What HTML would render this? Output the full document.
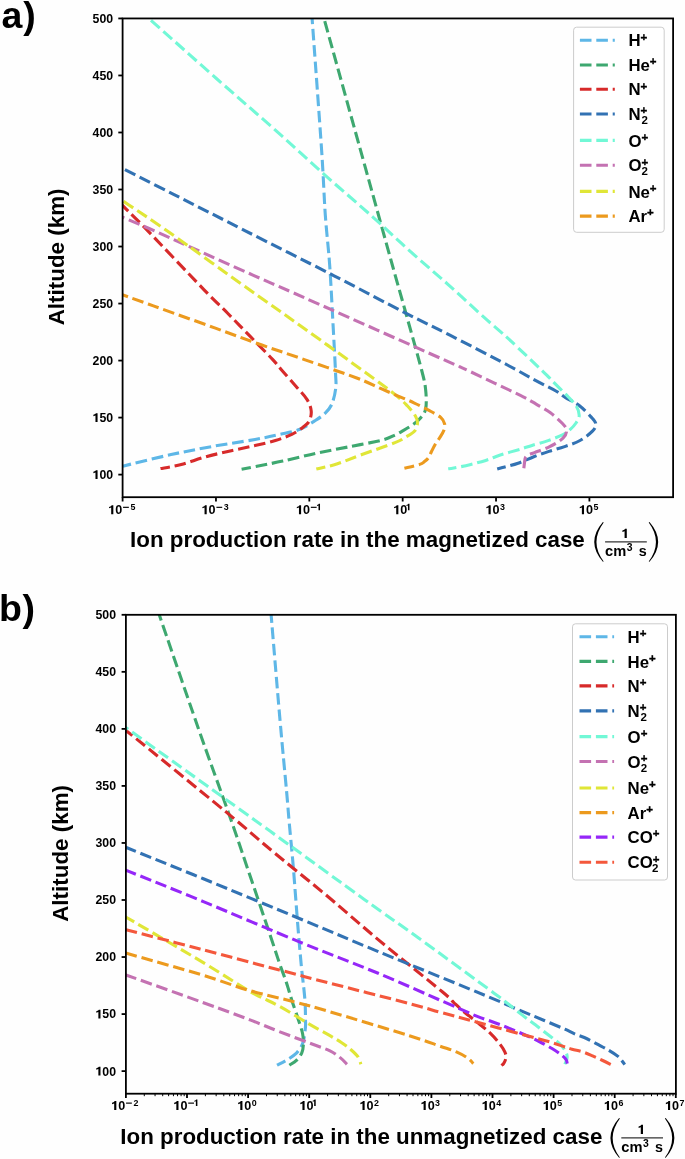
<!DOCTYPE html><html><head><meta charset="utf-8"><style>html,body{margin:0;padding:0;background:#fefefe;}svg{display:block;will-change:transform;}text{font-family:"Liberation Sans", sans-serif;fill:#000;}</style></head><body>
<svg width="685" height="1159" viewBox="0 0 685 1159">
<defs><clipPath id="ca"><rect x="122.60" y="18.45" width="550.50" height="478.75"/></clipPath><clipPath id="cb"><rect x="125.90" y="614.80" width="550.00" height="478.90"/></clipPath></defs>
<rect width="685" height="1159" fill="#fefefe"/>
<text x="1.5" y="28.3" font-size="37.5" font-weight="bold">a<tspan dx="0.9">)</tspan></text>
<text x="-1" y="620.8" font-size="37.5" font-weight="bold">b<tspan dx="0.6">)</tspan></text>
<g clip-path="url(#ca)" fill="none" stroke-width="3.10" stroke-dasharray="11.6 4.8">
<path d="M312.10,18.45 C313.68,40.38 319.40,117.26 321.60,150.00 C323.80,182.74 323.97,195.90 325.30,214.90 C326.63,233.90 328.35,246.48 329.60,264.00 C330.85,281.52 331.82,302.00 332.80,320.00 C333.78,338.00 335.02,360.60 335.50,372.00 C335.98,383.40 336.35,382.95 335.70,388.40 C335.05,393.85 333.47,400.45 331.60,404.70 C329.73,408.95 327.38,411.17 324.50,413.90 C321.62,416.63 318.38,418.53 314.30,421.10 C310.22,423.67 305.80,427.08 300.00,429.30 C294.20,431.52 287.00,432.70 279.50,434.40 C272.00,436.10 266.25,437.48 255.00,439.50 C243.75,441.52 225.98,443.98 212.00,446.50 C198.02,449.02 186.00,451.32 171.10,454.60 C156.20,457.88 132.78,463.70 122.60,466.20 C112.42,468.70 112.10,469.03 110.00,469.60" stroke="#5EB7E7" stroke-dashoffset="5.93"/>
<path d="M324.00,18.45 C330.92,43.41 354.18,127.36 365.50,168.20 C376.82,209.04 385.37,240.03 391.90,263.50 C398.43,286.97 399.75,291.25 404.70,309.00 C409.65,326.75 418.10,356.43 421.60,370.00 C425.10,383.57 425.02,383.93 425.70,390.40 C426.38,396.87 426.57,404.20 425.70,408.80 C424.83,413.40 422.55,415.43 420.50,418.00 C418.45,420.57 416.28,422.10 413.40,424.20 C410.52,426.30 406.27,428.80 403.20,430.60 C400.13,432.40 398.63,433.38 395.00,435.00 C391.37,436.62 389.15,438.32 381.40,440.30 C373.65,442.28 359.45,444.72 348.50,446.90 C337.55,449.08 326.65,451.03 315.70,453.40 C304.75,455.77 292.58,458.97 282.80,461.10 C273.02,463.23 263.87,464.85 257.00,466.20 C250.13,467.55 244.17,468.70 241.60,469.20" stroke="#3EA870" stroke-dashoffset="13.44"/>
<path d="M110.00,192.60 C112.65,195.30 119.75,202.58 125.90,208.80 C132.05,215.02 133.95,216.48 146.90,229.90 C159.85,243.32 190.10,275.37 203.60,289.30 C217.10,303.23 220.25,305.77 227.90,313.50 C235.55,321.23 242.10,328.10 249.50,335.70 C256.90,343.30 266.95,353.38 272.30,359.10 C277.65,364.82 277.67,365.47 281.60,370.00 C285.53,374.53 291.65,381.37 295.90,386.30 C300.15,391.23 304.55,395.50 307.10,399.60 C309.65,403.70 310.85,407.32 311.20,410.90 C311.55,414.48 310.57,418.38 309.20,421.10 C307.83,423.82 305.90,424.98 303.00,427.20 C300.10,429.42 296.40,432.18 291.80,434.40 C287.20,436.62 281.53,438.63 275.40,440.50 C269.27,442.37 262.17,443.95 255.00,445.60 C247.83,447.25 240.60,448.53 232.40,450.40 C224.20,452.27 214.32,454.45 205.80,456.80 C197.28,459.15 188.85,462.53 181.30,464.50 C173.75,466.47 163.97,467.92 160.50,468.60" stroke="#D72A2A" stroke-dashoffset="2.24"/>
<path d="M110.00,162.10 C120.68,167.52 151.55,183.15 174.10,194.60 C196.65,206.05 218.63,217.27 245.30,230.80 C271.97,244.33 307.53,262.17 334.10,275.80 C360.67,289.43 385.40,302.72 404.70,312.60 C424.00,322.48 432.63,326.28 449.90,335.10 C467.17,343.92 494.05,357.95 508.30,365.50 C522.55,373.05 527.47,376.15 535.40,380.40 C543.33,384.65 550.87,388.13 555.90,391.00 C560.93,393.87 561.72,395.18 565.60,397.60 C569.48,400.02 574.97,402.28 579.20,405.50 C583.43,408.72 588.23,413.83 591.00,416.90 C593.77,419.97 595.52,421.57 595.80,423.90 C596.08,426.23 595.33,428.13 592.70,430.90 C590.07,433.67 584.68,437.88 580.00,440.50 C575.32,443.12 569.78,444.78 564.60,446.60 C559.42,448.42 554.03,449.72 548.90,451.40 C543.77,453.08 538.93,454.73 533.80,456.70 C528.67,458.67 523.32,461.38 518.10,463.20 C512.88,465.02 505.98,466.62 502.50,467.60 C499.02,468.58 498.08,468.85 497.20,469.10" stroke="#3272B3" stroke-dashoffset="15.92"/>
<path d="M148.90,18.45 C160.15,28.46 195.13,59.73 216.40,78.50 C237.67,97.28 258.27,114.88 276.50,131.10 C294.73,147.32 309.60,161.35 325.80,175.80 C342.00,190.25 359.48,205.07 373.70,217.80 C387.92,230.53 398.73,241.12 411.10,252.20 C423.47,263.28 435.68,273.40 447.90,284.30 C460.12,295.20 474.23,308.45 484.40,317.60 C494.57,326.75 498.78,329.87 508.90,339.20 C519.02,348.53 537.95,366.73 545.10,373.60 C552.25,380.47 547.97,376.53 551.80,380.40 C555.63,384.27 564.02,392.53 568.10,396.80 C572.18,401.07 574.45,402.88 576.30,406.00 C578.15,409.12 579.25,412.67 579.20,415.50 C579.15,418.33 577.62,420.55 576.00,423.00 C574.38,425.45 571.67,428.27 569.50,430.20 C567.33,432.13 566.57,432.87 563.00,434.60 C559.43,436.33 553.27,438.80 548.10,440.60 C542.93,442.40 536.55,444.00 532.00,445.40 C527.45,446.80 525.97,447.43 520.80,449.00 C515.63,450.57 506.85,452.90 501.00,454.80 C495.15,456.70 490.90,458.75 485.70,460.40 C480.50,462.05 475.12,463.42 469.80,464.70 C464.48,465.98 457.40,467.42 453.80,468.10 C450.20,468.78 449.13,468.68 448.20,468.80" stroke="#72F8D6" stroke-dashoffset="13.30"/>
<path d="M110.00,212.00 C112.10,212.87 116.08,214.45 122.60,217.20 C129.12,219.95 137.87,223.55 149.10,228.50 C160.33,233.45 172.62,239.10 190.00,246.90 C207.38,254.70 232.80,266.15 253.40,275.30 C274.00,284.45 281.23,287.45 313.60,301.80 C345.97,316.15 422.83,350.40 447.60,361.40 C472.37,372.40 454.30,364.15 462.20,367.80 C470.10,371.45 484.83,378.47 495.00,383.30 C505.17,388.13 516.35,393.33 523.20,396.80 C530.05,400.27 531.62,401.48 536.10,404.10 C540.58,406.72 545.75,409.30 550.10,412.50 C554.45,415.70 559.45,420.37 562.20,423.30 C564.95,426.23 566.47,427.62 566.60,430.10 C566.73,432.58 565.82,435.45 563.00,438.20 C560.18,440.95 554.45,444.20 549.70,446.60 C544.95,449.00 537.93,451.27 534.50,452.60 C531.07,453.93 530.52,453.93 529.10,454.60 C527.68,455.27 526.68,455.87 526.00,456.60 C525.32,457.33 525.27,457.85 525.00,459.00 C524.73,460.15 524.60,461.92 524.40,463.50 C524.20,465.08 523.90,467.67 523.80,468.50" stroke="#C472B2" stroke-dashoffset="12.35"/>
<path d="M110.00,192.20 C113.08,194.28 118.70,198.07 128.50,204.70 C138.30,211.33 148.75,217.90 168.80,232.00 C188.85,246.10 226.52,273.43 248.80,289.30 C271.08,305.17 283.42,313.58 302.50,327.20 C321.58,340.82 347.88,359.78 363.30,371.00 C378.72,382.22 387.67,388.70 395.00,394.50 C402.33,400.30 403.90,402.22 407.30,405.80 C410.70,409.38 413.70,413.12 415.40,416.00 C417.10,418.88 417.67,420.55 417.50,423.10 C417.33,425.65 416.45,428.92 414.40,431.30 C412.35,433.68 408.43,435.52 405.20,437.40 C401.97,439.28 402.32,439.70 395.00,442.60 C387.68,445.50 371.02,451.23 361.30,454.80 C351.58,458.37 344.20,461.62 336.70,464.00 C329.20,466.38 319.70,468.25 316.30,469.10" stroke="#E0E637" stroke-dashoffset="16.27"/>
<path d="M110.00,290.30 C117.23,292.90 135.95,299.63 153.40,305.90 C170.85,312.17 196.73,321.42 214.70,327.90 C232.67,334.38 246.25,339.52 261.20,344.80 C276.15,350.08 288.48,354.07 304.40,359.60 C320.32,365.13 344.10,373.23 356.70,378.00 C369.30,382.77 373.20,385.23 380.00,388.20 C386.80,391.17 391.85,393.37 397.50,395.80 C403.15,398.23 408.65,400.37 413.90,402.80 C419.15,405.23 424.53,407.97 429.00,410.40 C433.47,412.83 438.10,415.17 440.70,417.40 C443.30,419.63 444.08,421.62 444.60,423.80 C445.12,425.98 444.65,428.13 443.80,430.50 C442.95,432.87 440.97,435.63 439.50,438.00 C438.03,440.37 436.33,442.45 435.00,444.70 C433.67,446.95 432.58,449.32 431.50,451.50 C430.42,453.68 429.67,456.12 428.50,457.80 C427.33,459.48 425.97,460.50 424.50,461.60 C423.03,462.70 423.05,463.30 419.70,464.40 C416.35,465.50 406.95,467.57 404.40,468.20" stroke="#EC9A1E" stroke-dashoffset="8.88"/>
</g>
<g clip-path="url(#cb)" fill="none" stroke-width="3.10" stroke-dasharray="11.6 4.8">
<path d="M271.10,614.60 C272.58,632.17 277.42,690.52 280.00,720.00 C282.58,749.48 285.05,774.25 286.60,791.50 C288.15,808.75 288.20,811.10 289.30,823.50 C290.40,835.90 291.83,849.57 293.20,865.90 C294.57,882.23 296.17,905.05 297.50,921.50 C298.83,937.95 300.12,953.18 301.20,964.60 C302.28,976.02 303.33,983.33 304.00,990.00 C304.67,996.67 304.95,999.65 305.20,1004.60 C305.45,1009.55 305.45,1016.05 305.50,1019.70 C305.55,1023.35 305.75,1023.42 305.50,1026.50 C305.25,1029.58 304.62,1035.03 304.00,1038.20 C303.38,1041.37 303.02,1043.07 301.80,1045.50 C300.58,1047.93 299.00,1050.50 296.70,1052.80 C294.40,1055.10 291.28,1057.23 288.00,1059.30 C284.72,1061.37 278.83,1064.22 277.00,1065.20" stroke="#5EB7E7" stroke-dashoffset="3.30"/>
<path d="M159.20,614.60 C165.70,633.50 186.70,695.12 198.20,728.00 C209.70,760.88 220.03,788.67 228.20,811.90 C236.37,835.13 240.22,846.88 247.20,867.40 C254.18,887.92 264.73,919.07 270.10,935.00 C275.47,950.93 276.83,955.52 279.40,963.00 C281.97,970.48 283.95,975.40 285.50,979.90 C287.05,984.40 287.57,986.37 288.70,990.00 C289.83,993.63 290.72,996.83 292.30,1001.70 C293.88,1006.57 296.48,1013.85 298.20,1019.20 C299.92,1024.55 301.75,1029.42 302.60,1033.80 C303.45,1038.18 303.43,1042.33 303.30,1045.50 C303.17,1048.67 302.90,1050.37 301.80,1052.80 C300.70,1055.23 298.77,1058.03 296.70,1060.10 C294.63,1062.17 290.62,1064.35 289.40,1065.20" stroke="#3EA870" stroke-dashoffset="5.36"/>
<path d="M110.00,718.90 C112.92,721.03 108.17,716.20 127.50,731.70 C146.83,747.20 201.67,791.83 226.00,811.90 C250.33,831.97 256.83,838.25 273.50,852.10 C290.17,865.95 308.35,880.25 326.00,895.00 C343.65,909.75 360.02,924.47 379.40,940.60 C398.78,956.73 429.87,981.43 442.30,991.80 C454.73,1002.17 450.30,999.40 454.00,1002.80 C457.70,1006.20 460.42,1008.78 464.50,1012.20 C468.58,1015.62 474.22,1019.80 478.50,1023.30 C482.78,1026.80 486.68,1029.80 490.20,1033.20 C493.72,1036.60 497.17,1040.58 499.60,1043.70 C502.03,1046.82 503.73,1049.57 504.80,1051.90 C505.87,1054.23 506.20,1055.75 506.00,1057.70 C505.80,1059.65 504.38,1062.33 503.60,1063.60 C502.82,1064.87 501.68,1065.02 501.30,1065.30" stroke="#D72A2A"/>
<path d="M110.00,841.00 C112.82,842.13 111.33,841.50 126.90,847.80 C142.47,854.10 173.97,866.73 203.40,878.80 C232.83,890.87 274.55,908.15 303.50,920.20 C332.45,932.25 346.18,938.30 377.10,951.10 C408.02,963.90 466.07,987.48 489.00,997.00 C511.93,1006.52 507.12,1004.97 514.70,1008.20 C522.28,1011.43 528.67,1013.97 534.50,1016.40 C540.33,1018.83 544.63,1020.67 549.70,1022.80 C554.77,1024.93 560.75,1027.35 564.90,1029.20 C569.05,1031.05 571.37,1032.52 574.60,1033.90 C577.83,1035.28 580.98,1036.05 584.30,1037.50 C587.62,1038.95 590.42,1040.47 594.50,1042.60 C598.58,1044.73 604.88,1048.00 608.80,1050.30 C612.72,1052.60 615.78,1054.62 618.00,1056.40 C620.22,1058.18 620.98,1059.63 622.10,1061.00 C623.22,1062.37 624.27,1064.00 624.70,1064.60" stroke="#3272B3"/>
<path d="M110.00,716.20 C112.92,718.30 100.83,709.65 127.50,728.80 C154.17,747.95 230.53,802.65 270.00,831.10 C309.47,859.55 339.77,881.85 364.30,899.50 C388.83,917.15 395.63,921.43 417.20,937.00 C438.77,952.57 479.00,982.12 493.70,992.90 C508.40,1003.68 500.73,998.08 505.40,1001.70 C510.07,1005.32 516.65,1010.70 521.70,1014.60 C526.75,1018.50 531.23,1021.70 535.70,1025.10 C540.17,1028.50 544.62,1031.98 548.50,1035.00 C552.38,1038.02 556.27,1040.67 559.00,1043.20 C561.73,1045.73 563.53,1047.87 564.90,1050.20 C566.27,1052.53 567.20,1054.87 567.20,1057.20 C567.20,1059.53 565.28,1063.03 564.90,1064.20" stroke="#72F8D6" stroke-dashoffset="3.92"/>
<path d="M110.00,969.30 C112.77,970.28 111.02,969.63 126.60,975.20 C142.18,980.77 182.93,995.25 203.50,1002.70 C224.07,1010.15 237.38,1015.08 250.00,1019.90 C262.62,1024.72 269.47,1027.82 279.20,1031.60 C288.93,1035.38 299.93,1039.38 308.40,1042.60 C316.87,1045.82 324.65,1048.35 330.00,1050.90 C335.35,1053.45 337.68,1055.67 340.50,1057.90 C343.32,1060.13 345.83,1063.23 346.90,1064.30" stroke="#C472B2"/>
<path d="M110.00,908.00 C112.77,909.58 111.12,908.43 126.60,917.50 C142.08,926.57 182.33,950.07 202.90,962.40 C223.47,974.73 237.28,984.22 250.00,991.50 C262.72,998.78 269.47,1000.75 279.20,1006.10 C288.93,1011.45 299.93,1018.67 308.40,1023.60 C316.87,1028.53 324.45,1032.52 330.00,1035.70 C335.55,1038.88 338.20,1040.37 341.70,1042.70 C345.20,1045.03 348.28,1047.35 351.00,1049.70 C353.72,1052.05 356.35,1054.37 358.00,1056.80 C359.65,1059.23 360.42,1063.05 360.90,1064.30" stroke="#E0E637"/>
<path d="M110.00,948.50 C112.77,949.30 111.40,948.93 126.60,953.30 C141.80,957.67 180.63,968.47 201.20,974.70 C221.77,980.93 234.57,986.20 250.00,990.70 C265.43,995.20 280.47,998.18 293.80,1001.70 C307.13,1005.22 310.73,1006.13 330.00,1011.80 C349.27,1017.47 391.07,1029.98 409.40,1035.70 C427.73,1041.42 432.17,1043.40 440.00,1046.10 C447.83,1048.80 451.73,1049.87 456.40,1051.90 C461.07,1053.93 465.18,1056.35 468.00,1058.30 C470.82,1060.25 472.42,1062.72 473.30,1063.60" stroke="#EC9A1E"/>
<path d="M110.00,863.80 C112.82,864.93 111.33,864.30 126.90,870.60 C142.47,876.90 174.55,889.68 203.40,901.60 C232.25,913.52 270.87,930.15 300.00,942.10 C329.13,954.05 354.28,963.37 378.20,973.30 C402.12,983.23 429.30,995.52 443.50,1001.70 C457.70,1007.88 457.57,1007.87 463.40,1010.40 C469.23,1012.93 473.25,1014.85 478.50,1016.90 C483.75,1018.95 489.65,1020.75 494.90,1022.70 C500.15,1024.65 504.95,1026.55 510.00,1028.60 C515.05,1030.65 520.33,1032.85 525.20,1035.00 C530.07,1037.15 534.73,1039.25 539.20,1041.50 C543.67,1043.75 548.30,1046.27 552.00,1048.50 C555.70,1050.73 559.05,1053.05 561.40,1054.90 C563.75,1056.75 565.13,1058.15 566.10,1059.60 C567.07,1061.05 567.02,1062.93 567.20,1063.60" stroke="#9527F8"/>
<path d="M110.00,925.50 C112.67,926.20 111.00,925.78 126.00,929.70 C141.00,933.62 174.43,942.28 200.00,949.00 C225.57,955.72 257.73,964.30 279.40,970.00 C301.07,975.70 308.33,977.60 330.00,983.20 C351.67,988.80 391.07,998.77 409.40,1003.60 C427.73,1008.43 430.23,1009.50 440.00,1012.20 C449.77,1014.90 458.27,1017.17 468.00,1019.80 C477.73,1022.43 487.90,1025.17 498.40,1028.00 C508.90,1030.83 522.65,1034.55 531.00,1036.80 C539.35,1039.05 543.23,1039.95 548.50,1041.50 C553.77,1043.05 558.68,1044.82 562.60,1046.10 C566.52,1047.38 568.72,1048.25 572.00,1049.20 C575.28,1050.15 578.88,1050.68 582.30,1051.80 C585.72,1052.92 589.10,1054.45 592.50,1055.90 C595.90,1057.35 599.47,1058.97 602.70,1060.50 C605.93,1062.03 610.37,1064.33 611.90,1065.10" stroke="#F4583C"/>
</g>
<rect x="122.60" y="18.45" width="550.50" height="478.75" fill="none" stroke="#000" stroke-width="1.8"/>
<line x1="118.30" y1="474.61" x2="122.60" y2="474.61" stroke="#000" stroke-width="1.8"/>
<polygon points="95.47,479.01 97.57,479.01 97.57,470.20 95.97,470.20 95.23,471.08 93.38,471.81 93.38,473.17 95.47,472.43" fill="#000"/><text x="99.42" y="479.01" font-size="12.30" font-weight="bold">00</text>
<line x1="118.30" y1="417.59" x2="122.60" y2="417.59" stroke="#000" stroke-width="1.8"/>
<polygon points="95.47,421.99 97.57,421.99 97.57,413.18 95.97,413.18 95.23,414.06 93.38,414.79 93.38,416.15 95.47,415.41" fill="#000"/><text x="99.42" y="421.99" font-size="12.30" font-weight="bold">50</text>
<line x1="118.30" y1="360.57" x2="122.60" y2="360.57" stroke="#000" stroke-width="1.8"/>
<text x="92.58" y="364.97" font-size="12.30" font-weight="bold">200</text>
<line x1="118.30" y1="303.55" x2="122.60" y2="303.55" stroke="#000" stroke-width="1.8"/>
<text x="92.58" y="307.95" font-size="12.30" font-weight="bold">250</text>
<line x1="118.30" y1="246.53" x2="122.60" y2="246.53" stroke="#000" stroke-width="1.8"/>
<text x="92.58" y="250.93" font-size="12.30" font-weight="bold">300</text>
<line x1="118.30" y1="189.51" x2="122.60" y2="189.51" stroke="#000" stroke-width="1.8"/>
<text x="92.58" y="193.91" font-size="12.30" font-weight="bold">350</text>
<line x1="118.30" y1="132.49" x2="122.60" y2="132.49" stroke="#000" stroke-width="1.8"/>
<text x="92.58" y="136.89" font-size="12.30" font-weight="bold">400</text>
<line x1="118.30" y1="75.47" x2="122.60" y2="75.47" stroke="#000" stroke-width="1.8"/>
<text x="92.58" y="79.87" font-size="12.30" font-weight="bold">450</text>
<line x1="118.30" y1="18.45" x2="122.60" y2="18.45" stroke="#000" stroke-width="1.8"/>
<text x="92.58" y="22.85" font-size="12.30" font-weight="bold">500</text>
<line x1="122.60" y1="497.20" x2="122.60" y2="501.50" stroke="#000" stroke-width="1.8"/>
<polygon points="111.19,514.32 113.33,514.32 113.33,505.30 111.70,505.30 110.94,506.19 109.05,506.95 109.05,508.34 111.19,507.58" fill="#000"/><text x="115.24" y="514.32" font-size="12.60" font-weight="bold">0</text><rect x="123.05" y="506.75" width="5.80" height="1.15" fill="#000"/><text x="130.49" y="510.17" font-size="8.90" font-weight="bold">5</text>
<line x1="215.96" y1="497.20" x2="215.96" y2="501.50" stroke="#000" stroke-width="1.8"/>
<polygon points="204.55,514.32 206.69,514.32 206.69,505.30 205.06,505.30 204.30,506.19 202.41,506.95 202.41,508.34 204.55,507.58" fill="#000"/><text x="208.60" y="514.32" font-size="12.60" font-weight="bold">0</text><rect x="216.41" y="506.75" width="5.80" height="1.15" fill="#000"/><text x="223.85" y="510.17" font-size="8.90" font-weight="bold">3</text>
<line x1="309.32" y1="497.20" x2="309.32" y2="501.50" stroke="#000" stroke-width="1.8"/>
<polygon points="298.96,514.32 301.10,514.32 301.10,505.30 299.47,505.30 298.71,506.19 296.82,506.95 296.82,508.34 298.96,507.58" fill="#000"/><text x="303.01" y="514.32" font-size="12.60" font-weight="bold">0</text><rect x="310.82" y="506.75" width="5.80" height="1.15" fill="#000"/><polygon points="318.50,510.17 320.01,510.17 320.01,503.80 318.85,503.80 318.32,504.43 316.99,504.97 316.99,505.94 318.50,505.41" fill="#000"/>
<line x1="402.68" y1="497.20" x2="402.68" y2="501.50" stroke="#000" stroke-width="1.8"/>
<polygon points="396.22,514.32 398.36,514.32 398.36,505.30 396.73,505.30 395.97,506.19 394.08,506.95 394.08,508.34 396.22,507.58" fill="#000"/><text x="400.27" y="514.32" font-size="12.60" font-weight="bold">0</text><polygon points="407.96,510.17 409.47,510.17 409.47,503.80 408.31,503.80 407.78,504.43 406.44,504.97 406.44,505.94 407.96,505.41" fill="#000"/>
<line x1="496.04" y1="497.20" x2="496.04" y2="501.50" stroke="#000" stroke-width="1.8"/>
<polygon points="488.53,514.32 490.67,514.32 490.67,505.30 489.04,505.30 488.28,506.19 486.39,506.95 486.39,508.34 488.53,507.58" fill="#000"/><text x="492.58" y="514.32" font-size="12.60" font-weight="bold">0</text><text x="500.03" y="510.17" font-size="8.90" font-weight="bold">3</text>
<line x1="589.40" y1="497.20" x2="589.40" y2="501.50" stroke="#000" stroke-width="1.8"/>
<polygon points="581.89,514.32 584.03,514.32 584.03,505.30 582.40,505.30 581.64,506.19 579.75,506.95 579.75,508.34 581.89,507.58" fill="#000"/><text x="585.94" y="514.32" font-size="12.60" font-weight="bold">0</text><text x="593.39" y="510.17" font-size="8.90" font-weight="bold">5</text>
<rect x="125.90" y="614.80" width="550.00" height="478.90" fill="none" stroke="#000" stroke-width="1.8"/>
<line x1="121.60" y1="1071.12" x2="125.90" y2="1071.12" stroke="#000" stroke-width="1.8"/>
<polygon points="98.37,1075.52 100.47,1075.52 100.47,1066.71 98.87,1066.71 98.13,1067.59 96.28,1068.32 96.28,1069.68 98.37,1068.94" fill="#000"/><text x="102.32" y="1075.52" font-size="12.30" font-weight="bold">00</text>
<line x1="121.60" y1="1014.08" x2="125.90" y2="1014.08" stroke="#000" stroke-width="1.8"/>
<polygon points="98.37,1018.48 100.47,1018.48 100.47,1009.67 98.87,1009.67 98.13,1010.55 96.28,1011.28 96.28,1012.64 98.37,1011.90" fill="#000"/><text x="102.32" y="1018.48" font-size="12.30" font-weight="bold">50</text>
<line x1="121.60" y1="957.04" x2="125.90" y2="957.04" stroke="#000" stroke-width="1.8"/>
<text x="95.48" y="961.44" font-size="12.30" font-weight="bold">200</text>
<line x1="121.60" y1="900.00" x2="125.90" y2="900.00" stroke="#000" stroke-width="1.8"/>
<text x="95.48" y="904.40" font-size="12.30" font-weight="bold">250</text>
<line x1="121.60" y1="842.96" x2="125.90" y2="842.96" stroke="#000" stroke-width="1.8"/>
<text x="95.48" y="847.36" font-size="12.30" font-weight="bold">300</text>
<line x1="121.60" y1="785.92" x2="125.90" y2="785.92" stroke="#000" stroke-width="1.8"/>
<text x="95.48" y="790.32" font-size="12.30" font-weight="bold">350</text>
<line x1="121.60" y1="728.88" x2="125.90" y2="728.88" stroke="#000" stroke-width="1.8"/>
<text x="95.48" y="733.28" font-size="12.30" font-weight="bold">400</text>
<line x1="121.60" y1="671.84" x2="125.90" y2="671.84" stroke="#000" stroke-width="1.8"/>
<text x="95.48" y="676.24" font-size="12.30" font-weight="bold">450</text>
<line x1="121.60" y1="614.80" x2="125.90" y2="614.80" stroke="#000" stroke-width="1.8"/>
<text x="95.48" y="619.20" font-size="12.30" font-weight="bold">500</text>
<line x1="125.90" y1="1093.70" x2="125.90" y2="1098.00" stroke="#000" stroke-width="1.8"/>
<polygon points="114.19,1110.12 116.33,1110.12 116.33,1101.10 114.70,1101.10 113.94,1101.99 112.05,1102.75 112.05,1104.14 114.19,1103.38" fill="#000"/><text x="118.24" y="1110.12" font-size="12.60" font-weight="bold">0</text><rect x="126.05" y="1102.55" width="5.80" height="1.15" fill="#000"/><text x="133.49" y="1105.97" font-size="8.90" font-weight="bold">2</text>
<line x1="187.00" y1="1093.70" x2="187.00" y2="1098.00" stroke="#000" stroke-width="1.8"/>
<polygon points="176.34,1110.12 178.48,1110.12 178.48,1101.10 176.85,1101.10 176.09,1101.99 174.20,1102.75 174.20,1104.14 176.34,1103.38" fill="#000"/><text x="180.39" y="1110.12" font-size="12.60" font-weight="bold">0</text><rect x="188.20" y="1102.55" width="5.80" height="1.15" fill="#000"/><polygon points="195.88,1105.97 197.39,1105.97 197.39,1099.60 196.23,1099.60 195.70,1100.23 194.36,1100.77 194.36,1101.74 195.88,1101.21" fill="#000"/>
<line x1="248.10" y1="1093.70" x2="248.10" y2="1098.00" stroke="#000" stroke-width="1.8"/>
<polygon points="240.29,1110.12 242.43,1110.12 242.43,1101.10 240.80,1101.10 240.04,1101.99 238.15,1102.75 238.15,1104.14 240.29,1103.38" fill="#000"/><text x="244.34" y="1110.12" font-size="12.60" font-weight="bold">0</text><text x="251.79" y="1105.97" font-size="8.90" font-weight="bold">0</text>
<line x1="309.20" y1="1093.70" x2="309.20" y2="1098.00" stroke="#000" stroke-width="1.8"/>
<polygon points="302.44,1110.12 304.58,1110.12 304.58,1101.10 302.95,1101.10 302.19,1101.99 300.30,1102.75 300.30,1104.14 302.44,1103.38" fill="#000"/><text x="306.49" y="1110.12" font-size="12.60" font-weight="bold">0</text><polygon points="314.18,1105.97 315.69,1105.97 315.69,1099.60 314.53,1099.60 314.00,1100.23 312.67,1100.77 312.67,1101.74 314.18,1101.21" fill="#000"/>
<line x1="370.30" y1="1093.70" x2="370.30" y2="1098.00" stroke="#000" stroke-width="1.8"/>
<polygon points="362.49,1110.12 364.63,1110.12 364.63,1101.10 363.00,1101.10 362.24,1101.99 360.35,1102.75 360.35,1104.14 362.49,1103.38" fill="#000"/><text x="366.54" y="1110.12" font-size="12.60" font-weight="bold">0</text><text x="373.99" y="1105.97" font-size="8.90" font-weight="bold">2</text>
<line x1="431.40" y1="1093.70" x2="431.40" y2="1098.00" stroke="#000" stroke-width="1.8"/>
<polygon points="423.59,1110.12 425.73,1110.12 425.73,1101.10 424.10,1101.10 423.34,1101.99 421.45,1102.75 421.45,1104.14 423.59,1103.38" fill="#000"/><text x="427.64" y="1110.12" font-size="12.60" font-weight="bold">0</text><text x="435.09" y="1105.97" font-size="8.90" font-weight="bold">3</text>
<line x1="492.50" y1="1093.70" x2="492.50" y2="1098.00" stroke="#000" stroke-width="1.8"/>
<polygon points="484.69,1110.12 486.83,1110.12 486.83,1101.10 485.20,1101.10 484.44,1101.99 482.55,1102.75 482.55,1104.14 484.69,1103.38" fill="#000"/><text x="488.74" y="1110.12" font-size="12.60" font-weight="bold">0</text><text x="496.19" y="1105.97" font-size="8.90" font-weight="bold">4</text>
<line x1="553.60" y1="1093.70" x2="553.60" y2="1098.00" stroke="#000" stroke-width="1.8"/>
<polygon points="545.79,1110.12 547.93,1110.12 547.93,1101.10 546.30,1101.10 545.54,1101.99 543.65,1102.75 543.65,1104.14 545.79,1103.38" fill="#000"/><text x="549.84" y="1110.12" font-size="12.60" font-weight="bold">0</text><text x="557.29" y="1105.97" font-size="8.90" font-weight="bold">5</text>
<line x1="614.70" y1="1093.70" x2="614.70" y2="1098.00" stroke="#000" stroke-width="1.8"/>
<polygon points="606.89,1110.12 609.03,1110.12 609.03,1101.10 607.40,1101.10 606.64,1101.99 604.75,1102.75 604.75,1104.14 606.89,1103.38" fill="#000"/><text x="610.94" y="1110.12" font-size="12.60" font-weight="bold">0</text><text x="618.39" y="1105.97" font-size="8.90" font-weight="bold">6</text>
<line x1="675.80" y1="1093.70" x2="675.80" y2="1098.00" stroke="#000" stroke-width="1.8"/>
<polygon points="667.99,1110.12 670.13,1110.12 670.13,1101.10 668.50,1101.10 667.74,1101.99 665.85,1102.75 665.85,1104.14 667.99,1103.38" fill="#000"/><text x="672.04" y="1110.12" font-size="12.60" font-weight="bold">0</text><text x="679.49" y="1105.97" font-size="8.90" font-weight="bold">7</text>
<line x1="144.29" y1="1093.70" x2="144.29" y2="1096.20" stroke="#000" stroke-width="1"/>
<line x1="155.05" y1="1093.70" x2="155.05" y2="1096.20" stroke="#000" stroke-width="1"/>
<line x1="162.69" y1="1093.70" x2="162.69" y2="1096.20" stroke="#000" stroke-width="1"/>
<line x1="168.61" y1="1093.70" x2="168.61" y2="1096.20" stroke="#000" stroke-width="1"/>
<line x1="173.45" y1="1093.70" x2="173.45" y2="1096.20" stroke="#000" stroke-width="1"/>
<line x1="177.54" y1="1093.70" x2="177.54" y2="1096.20" stroke="#000" stroke-width="1"/>
<line x1="181.08" y1="1093.70" x2="181.08" y2="1096.20" stroke="#000" stroke-width="1"/>
<line x1="184.20" y1="1093.70" x2="184.20" y2="1096.20" stroke="#000" stroke-width="1"/>
<line x1="205.39" y1="1093.70" x2="205.39" y2="1096.20" stroke="#000" stroke-width="1"/>
<line x1="216.15" y1="1093.70" x2="216.15" y2="1096.20" stroke="#000" stroke-width="1"/>
<line x1="223.79" y1="1093.70" x2="223.79" y2="1096.20" stroke="#000" stroke-width="1"/>
<line x1="229.71" y1="1093.70" x2="229.71" y2="1096.20" stroke="#000" stroke-width="1"/>
<line x1="234.55" y1="1093.70" x2="234.55" y2="1096.20" stroke="#000" stroke-width="1"/>
<line x1="238.64" y1="1093.70" x2="238.64" y2="1096.20" stroke="#000" stroke-width="1"/>
<line x1="242.18" y1="1093.70" x2="242.18" y2="1096.20" stroke="#000" stroke-width="1"/>
<line x1="245.30" y1="1093.70" x2="245.30" y2="1096.20" stroke="#000" stroke-width="1"/>
<line x1="266.49" y1="1093.70" x2="266.49" y2="1096.20" stroke="#000" stroke-width="1"/>
<line x1="277.25" y1="1093.70" x2="277.25" y2="1096.20" stroke="#000" stroke-width="1"/>
<line x1="284.89" y1="1093.70" x2="284.89" y2="1096.20" stroke="#000" stroke-width="1"/>
<line x1="290.81" y1="1093.70" x2="290.81" y2="1096.20" stroke="#000" stroke-width="1"/>
<line x1="295.65" y1="1093.70" x2="295.65" y2="1096.20" stroke="#000" stroke-width="1"/>
<line x1="299.74" y1="1093.70" x2="299.74" y2="1096.20" stroke="#000" stroke-width="1"/>
<line x1="303.28" y1="1093.70" x2="303.28" y2="1096.20" stroke="#000" stroke-width="1"/>
<line x1="306.40" y1="1093.70" x2="306.40" y2="1096.20" stroke="#000" stroke-width="1"/>
<line x1="327.59" y1="1093.70" x2="327.59" y2="1096.20" stroke="#000" stroke-width="1"/>
<line x1="338.35" y1="1093.70" x2="338.35" y2="1096.20" stroke="#000" stroke-width="1"/>
<line x1="345.99" y1="1093.70" x2="345.99" y2="1096.20" stroke="#000" stroke-width="1"/>
<line x1="351.91" y1="1093.70" x2="351.91" y2="1096.20" stroke="#000" stroke-width="1"/>
<line x1="356.75" y1="1093.70" x2="356.75" y2="1096.20" stroke="#000" stroke-width="1"/>
<line x1="360.84" y1="1093.70" x2="360.84" y2="1096.20" stroke="#000" stroke-width="1"/>
<line x1="364.38" y1="1093.70" x2="364.38" y2="1096.20" stroke="#000" stroke-width="1"/>
<line x1="367.50" y1="1093.70" x2="367.50" y2="1096.20" stroke="#000" stroke-width="1"/>
<line x1="388.69" y1="1093.70" x2="388.69" y2="1096.20" stroke="#000" stroke-width="1"/>
<line x1="399.45" y1="1093.70" x2="399.45" y2="1096.20" stroke="#000" stroke-width="1"/>
<line x1="407.09" y1="1093.70" x2="407.09" y2="1096.20" stroke="#000" stroke-width="1"/>
<line x1="413.01" y1="1093.70" x2="413.01" y2="1096.20" stroke="#000" stroke-width="1"/>
<line x1="417.85" y1="1093.70" x2="417.85" y2="1096.20" stroke="#000" stroke-width="1"/>
<line x1="421.94" y1="1093.70" x2="421.94" y2="1096.20" stroke="#000" stroke-width="1"/>
<line x1="425.48" y1="1093.70" x2="425.48" y2="1096.20" stroke="#000" stroke-width="1"/>
<line x1="428.60" y1="1093.70" x2="428.60" y2="1096.20" stroke="#000" stroke-width="1"/>
<line x1="449.79" y1="1093.70" x2="449.79" y2="1096.20" stroke="#000" stroke-width="1"/>
<line x1="460.55" y1="1093.70" x2="460.55" y2="1096.20" stroke="#000" stroke-width="1"/>
<line x1="468.19" y1="1093.70" x2="468.19" y2="1096.20" stroke="#000" stroke-width="1"/>
<line x1="474.11" y1="1093.70" x2="474.11" y2="1096.20" stroke="#000" stroke-width="1"/>
<line x1="478.95" y1="1093.70" x2="478.95" y2="1096.20" stroke="#000" stroke-width="1"/>
<line x1="483.04" y1="1093.70" x2="483.04" y2="1096.20" stroke="#000" stroke-width="1"/>
<line x1="486.58" y1="1093.70" x2="486.58" y2="1096.20" stroke="#000" stroke-width="1"/>
<line x1="489.70" y1="1093.70" x2="489.70" y2="1096.20" stroke="#000" stroke-width="1"/>
<line x1="510.89" y1="1093.70" x2="510.89" y2="1096.20" stroke="#000" stroke-width="1"/>
<line x1="521.65" y1="1093.70" x2="521.65" y2="1096.20" stroke="#000" stroke-width="1"/>
<line x1="529.29" y1="1093.70" x2="529.29" y2="1096.20" stroke="#000" stroke-width="1"/>
<line x1="535.21" y1="1093.70" x2="535.21" y2="1096.20" stroke="#000" stroke-width="1"/>
<line x1="540.05" y1="1093.70" x2="540.05" y2="1096.20" stroke="#000" stroke-width="1"/>
<line x1="544.14" y1="1093.70" x2="544.14" y2="1096.20" stroke="#000" stroke-width="1"/>
<line x1="547.68" y1="1093.70" x2="547.68" y2="1096.20" stroke="#000" stroke-width="1"/>
<line x1="550.80" y1="1093.70" x2="550.80" y2="1096.20" stroke="#000" stroke-width="1"/>
<line x1="571.99" y1="1093.70" x2="571.99" y2="1096.20" stroke="#000" stroke-width="1"/>
<line x1="582.75" y1="1093.70" x2="582.75" y2="1096.20" stroke="#000" stroke-width="1"/>
<line x1="590.39" y1="1093.70" x2="590.39" y2="1096.20" stroke="#000" stroke-width="1"/>
<line x1="596.31" y1="1093.70" x2="596.31" y2="1096.20" stroke="#000" stroke-width="1"/>
<line x1="601.15" y1="1093.70" x2="601.15" y2="1096.20" stroke="#000" stroke-width="1"/>
<line x1="605.24" y1="1093.70" x2="605.24" y2="1096.20" stroke="#000" stroke-width="1"/>
<line x1="608.78" y1="1093.70" x2="608.78" y2="1096.20" stroke="#000" stroke-width="1"/>
<line x1="611.90" y1="1093.70" x2="611.90" y2="1096.20" stroke="#000" stroke-width="1"/>
<line x1="633.09" y1="1093.70" x2="633.09" y2="1096.20" stroke="#000" stroke-width="1"/>
<line x1="643.85" y1="1093.70" x2="643.85" y2="1096.20" stroke="#000" stroke-width="1"/>
<line x1="651.49" y1="1093.70" x2="651.49" y2="1096.20" stroke="#000" stroke-width="1"/>
<line x1="657.41" y1="1093.70" x2="657.41" y2="1096.20" stroke="#000" stroke-width="1"/>
<line x1="662.25" y1="1093.70" x2="662.25" y2="1096.20" stroke="#000" stroke-width="1"/>
<line x1="666.34" y1="1093.70" x2="666.34" y2="1096.20" stroke="#000" stroke-width="1"/>
<line x1="669.88" y1="1093.70" x2="669.88" y2="1096.20" stroke="#000" stroke-width="1"/>
<line x1="673.00" y1="1093.70" x2="673.00" y2="1096.20" stroke="#000" stroke-width="1"/>
<text transform="translate(64.2,325.3) rotate(-90)" font-size="22.4" font-weight="bold">Altitude (km)</text>
<text transform="translate(67.7,921.8) rotate(-90)" font-size="22.4" font-weight="bold">Altitude (km)</text>
<text x="130.1" y="547.3" font-size="22.37" font-weight="bold">Ion production rate in the magnetized case</text>
<text x="120.3" y="1143.6" font-size="22.37" font-weight="bold">Ion production rate in the unmagnetized case</text>
<path d="M602.90,522.00 Q585.60,541.90 602.90,561.80 L603.70,561.40 Q589.20,541.90 603.70,522.40 Z" fill="#000"/>
<path d="M649.50,522.00 Q666.80,541.90 649.50,561.80 L648.70,561.40 Q663.20,541.90 648.70,522.40 Z" fill="#000"/>
<line x1="605.10" y1="541.90" x2="646.80" y2="541.90" stroke="#333" stroke-width="1.2"/>
<polygon points="624.59,538.10 626.79,538.10 626.79,528.86 625.11,528.86 624.34,529.78 622.40,530.55 622.40,531.97 624.59,531.20" fill="#000"/>
<text x="605.10" y="555.90" font-size="14.6" font-weight="bold" textLength="21.2" lengthAdjust="spacingAndGlyphs">cm</text>
<text x="626.80" y="550.90" font-size="10.4" font-weight="bold">3</text>
<text x="638.70" y="555.90" font-size="14.6" font-weight="bold" textLength="8.0" lengthAdjust="spacingAndGlyphs">s</text>
<path d="M619.10,1118.00 Q601.80,1137.90 619.10,1157.80 L619.90,1157.40 Q605.40,1137.90 619.90,1118.40 Z" fill="#000"/>
<path d="M665.70,1118.00 Q683.00,1137.90 665.70,1157.80 L664.90,1157.40 Q679.40,1137.90 664.90,1118.40 Z" fill="#000"/>
<line x1="621.30" y1="1137.90" x2="663.00" y2="1137.90" stroke="#333" stroke-width="1.2"/>
<polygon points="640.79,1134.10 642.99,1134.10 642.99,1124.86 641.31,1124.86 640.54,1125.78 638.60,1126.55 638.60,1127.97 640.79,1127.20" fill="#000"/>
<text x="621.30" y="1151.90" font-size="14.6" font-weight="bold" textLength="21.2" lengthAdjust="spacingAndGlyphs">cm</text>
<text x="643.00" y="1146.90" font-size="10.4" font-weight="bold">3</text>
<text x="654.90" y="1151.90" font-size="14.6" font-weight="bold" textLength="8.0" lengthAdjust="spacingAndGlyphs">s</text>
<rect x="573.60" y="27.20" width="90.60" height="205.10" rx="3" ry="3" fill="#fff" fill-opacity="0.8" stroke="#cccccc" stroke-width="1"/>
<line x1="579.90" y1="40.30" x2="614.80" y2="40.30" stroke="#5EB7E7" stroke-width="3.10" stroke-dasharray="11.6 4.8"/>
<text x="628.40" y="46.40" font-size="16.8" font-weight="bold">H<tspan font-size="11.5" dy="-5.8" stroke="#000" stroke-width="0.35">+</tspan></text>
<line x1="579.90" y1="65.00" x2="614.80" y2="65.00" stroke="#3EA870" stroke-width="3.10" stroke-dasharray="11.6 4.8"/>
<text x="628.40" y="71.10" font-size="16.8" font-weight="bold">He<tspan font-size="11.5" dy="-5.8" stroke="#000" stroke-width="0.35">+</tspan></text>
<line x1="579.90" y1="89.30" x2="614.80" y2="89.30" stroke="#D72A2A" stroke-width="3.10" stroke-dasharray="11.6 4.8"/>
<text x="628.40" y="95.40" font-size="16.8" font-weight="bold">N<tspan font-size="11.5" dy="-5.8" stroke="#000" stroke-width="0.35">+</tspan></text>
<line x1="579.90" y1="114.00" x2="614.80" y2="114.00" stroke="#3272B3" stroke-width="3.10" stroke-dasharray="11.6 4.8"/>
<text x="628.40" y="120.10" font-size="16.8" font-weight="bold">N<tspan font-size="11.5" dy="-5.8" stroke="#000" stroke-width="0.35">+</tspan></text><text x="641.40" y="124.10" font-size="11.5" font-weight="bold">2</text>
<line x1="579.90" y1="140.40" x2="614.80" y2="140.40" stroke="#72F8D6" stroke-width="3.10" stroke-dasharray="11.6 4.8"/>
<text x="628.40" y="146.50" font-size="16.8" font-weight="bold">O<tspan font-size="11.5" dy="-5.8" stroke="#000" stroke-width="0.35">+</tspan></text>
<line x1="579.90" y1="165.30" x2="614.80" y2="165.30" stroke="#C472B2" stroke-width="3.10" stroke-dasharray="11.6 4.8"/>
<text x="628.40" y="171.40" font-size="16.8" font-weight="bold">O<tspan font-size="11.5" dy="-5.8" stroke="#000" stroke-width="0.35">+</tspan></text><text x="641.60" y="175.40" font-size="11.5" font-weight="bold">2</text>
<line x1="579.90" y1="191.40" x2="614.80" y2="191.40" stroke="#E0E637" stroke-width="3.10" stroke-dasharray="11.6 4.8"/>
<text x="628.40" y="197.50" font-size="16.8" font-weight="bold">Ne<tspan font-size="11.5" dy="-5.8" stroke="#000" stroke-width="0.35">+</tspan></text>
<line x1="579.90" y1="216.10" x2="614.80" y2="216.10" stroke="#EC9A1E" stroke-width="3.10" stroke-dasharray="11.6 4.8"/>
<text x="628.40" y="222.20" font-size="16.8" font-weight="bold">Ar<tspan font-size="11.5" dy="-5.8" stroke="#000" stroke-width="0.35">+</tspan></text>
<rect x="572.50" y="623.80" width="95.00" height="256.20" rx="3" ry="3" fill="#fff" fill-opacity="0.8" stroke="#cccccc" stroke-width="1"/>
<line x1="579.50" y1="636.80" x2="614.10" y2="636.80" stroke="#5EB7E7" stroke-width="3.10" stroke-dasharray="11.6 4.8"/>
<text x="627.60" y="642.90" font-size="16.8" font-weight="bold">H<tspan font-size="11.5" dy="-5.8" stroke="#000" stroke-width="0.35">+</tspan></text>
<line x1="579.50" y1="661.40" x2="614.10" y2="661.40" stroke="#3EA870" stroke-width="3.10" stroke-dasharray="11.6 4.8"/>
<text x="627.60" y="667.50" font-size="16.8" font-weight="bold">He<tspan font-size="11.5" dy="-5.8" stroke="#000" stroke-width="0.35">+</tspan></text>
<line x1="579.50" y1="685.90" x2="614.10" y2="685.90" stroke="#D72A2A" stroke-width="3.10" stroke-dasharray="11.6 4.8"/>
<text x="627.60" y="692.00" font-size="16.8" font-weight="bold">N<tspan font-size="11.5" dy="-5.8" stroke="#000" stroke-width="0.35">+</tspan></text>
<line x1="579.50" y1="710.90" x2="614.10" y2="710.90" stroke="#3272B3" stroke-width="3.10" stroke-dasharray="11.6 4.8"/>
<text x="627.60" y="717.00" font-size="16.8" font-weight="bold">N<tspan font-size="11.5" dy="-5.8" stroke="#000" stroke-width="0.35">+</tspan></text><text x="640.60" y="721.00" font-size="11.5" font-weight="bold">2</text>
<line x1="579.50" y1="736.60" x2="614.10" y2="736.60" stroke="#72F8D6" stroke-width="3.10" stroke-dasharray="11.6 4.8"/>
<text x="627.60" y="742.70" font-size="16.8" font-weight="bold">O<tspan font-size="11.5" dy="-5.8" stroke="#000" stroke-width="0.35">+</tspan></text>
<line x1="579.50" y1="761.50" x2="614.10" y2="761.50" stroke="#C472B2" stroke-width="3.10" stroke-dasharray="11.6 4.8"/>
<text x="627.60" y="767.60" font-size="16.8" font-weight="bold">O<tspan font-size="11.5" dy="-5.8" stroke="#000" stroke-width="0.35">+</tspan></text><text x="640.80" y="771.60" font-size="11.5" font-weight="bold">2</text>
<line x1="579.50" y1="788.00" x2="614.10" y2="788.00" stroke="#E0E637" stroke-width="3.10" stroke-dasharray="11.6 4.8"/>
<text x="627.60" y="794.10" font-size="16.8" font-weight="bold">Ne<tspan font-size="11.5" dy="-5.8" stroke="#000" stroke-width="0.35">+</tspan></text>
<line x1="579.50" y1="812.60" x2="614.10" y2="812.60" stroke="#EC9A1E" stroke-width="3.10" stroke-dasharray="11.6 4.8"/>
<text x="627.60" y="818.70" font-size="16.8" font-weight="bold">Ar<tspan font-size="11.5" dy="-5.8" stroke="#000" stroke-width="0.35">+</tspan></text>
<line x1="579.50" y1="837.10" x2="614.10" y2="837.10" stroke="#9527F8" stroke-width="3.10" stroke-dasharray="11.6 4.8"/>
<text x="627.60" y="843.20" font-size="16.8" font-weight="bold">CO<tspan font-size="11.5" dy="-5.8" stroke="#000" stroke-width="0.35">+</tspan></text>
<line x1="579.50" y1="862.30" x2="614.10" y2="862.30" stroke="#F4583C" stroke-width="3.10" stroke-dasharray="11.6 4.8"/>
<text x="627.60" y="868.40" font-size="16.8" font-weight="bold">CO<tspan font-size="11.5" dy="-5.8" stroke="#000" stroke-width="0.35">+</tspan></text><text x="652.10" y="872.40" font-size="11.5" font-weight="bold">2</text>
</svg></body></html>
